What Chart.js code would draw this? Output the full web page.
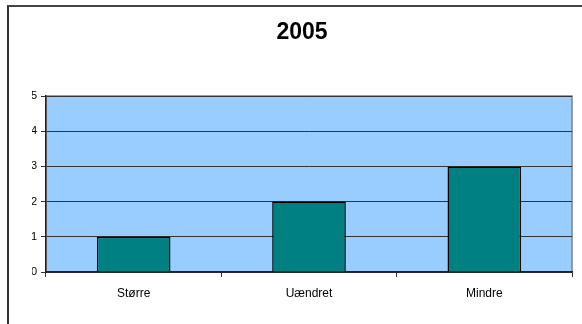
<!DOCTYPE html>
<html>
<head>
<meta charset="utf-8">
<script src="https://cdn.jsdelivr.net/npm/chart.js@4"></script>
<style>
  body { margin: 0; background: #fff; }
  #wrap { position: relative; width: 582px; height: 324px; overflow: hidden; }
  #frame { position: absolute; left: 7px; top: 5px; width: 600px; height: 400px;
           border-left: 2px solid #333; border-top: 2px solid #444; }
  canvas { position: absolute; left: 0; top: 0; }
</style>
</head>
<body>
<div id="wrap">
  <div id="frame"></div>
  <canvas id="chart" width="582" height="324"></canvas>
</div>
<script>
// chart values
const categories = ['Større', 'Uændret', 'Mindre'];
const values = [1, 2, 3];
const yTicks = [0, 1, 2, 3, 4, 5];
const title = '2005';

// light blue plot background with grey frame
const plotBackground = {
  id: 'plotBackground',
  beforeDraw(chart) {
    const { ctx, chartArea: a } = chart;
    ctx.save();
    ctx.fillStyle = '#99CCFF';
    ctx.fillRect(a.left, a.top, a.right - a.left, a.bottom - a.top);
    ctx.strokeStyle = '#808080';
    ctx.lineWidth = 1.5;
    ctx.strokeRect(a.left, a.top, a.right - a.left, a.bottom - a.top);
    ctx.restore();
  }
};

new Chart(document.getElementById('chart'), {
  type: 'bar',
  data: {
    labels: categories,
    datasets: [{
      data: values,
      backgroundColor: '#008080',
      borderColor: '#000',
      borderWidth: 1.5,
      categoryPercentage: 1,
      barPercentage: 0.42
    }]
  },
  plugins: [plotBackground],
  options: {
    responsive: false,
    animation: false,
    layout: { padding: { left: 32, right: 10, top: 0, bottom: 0 } },
    plugins: {
      legend: { display: false },
      tooltip: { enabled: false },
      title: {
        display: true,
        text: title,
        color: '#000',
        font: { family: 'Liberation Sans, Arial, sans-serif', size: 23, weight: 'bold' },
        padding: { top: 19, bottom: 49.4 }
      }
    },
    scales: {
      x: {
        afterFit(scale) { scale.height = 52; },
        grid: {
          offset: true,
          drawOnChartArea: false,
          drawTicks: true,
          tickLength: 5,
          color: '#333'
        },
        border: { display: true, color: '#222', width: 1.5 },
        ticks: {
          color: '#000',
          padding: 9,
          font: { family: 'Liberation Sans, Arial, sans-serif', size: 12 }
        }
      },
      y: {
        min: 0,
        max: 5,
        afterFit(scale) { scale.width = 14; },
        afterBuildTicks(scale) { scale.ticks = yTicks.map(v => ({ value: v })); },
        grid: {
          color: '#333',
          lineWidth: 1,
          drawTicks: true,
          tickLength: 5
        },
        border: { display: true, color: '#222', width: 1.5 },
        ticks: {
          color: '#000',
          padding: 4,
          font: { family: 'Liberation Sans, Arial, sans-serif', size: 11 }
        }
      }
    }
  }
});
</script>
</body>
</html>
